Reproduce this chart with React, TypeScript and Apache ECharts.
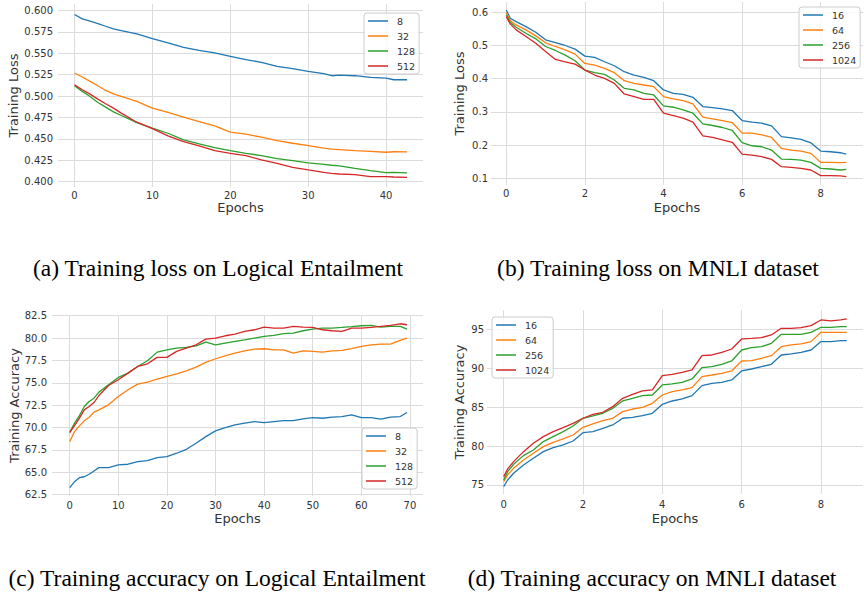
import React, { useEffect, useRef } from "react";
import * as echarts from "echarts";

// ---------- Panel (a): training loss on Logical Entailment ----------
const A_EPOCHS = [0, 1, 2, 3, 4, 5, 6, 8, 10, 12, 14, 16, 18, 20, 22, 24, 26, 28, 30, 32, 33, 34, 36, 38, 40, 41, 42.7];
const A_8 = [0.5953, 0.5902, 0.5875, 0.5848, 0.5816, 0.5785, 0.5766, 0.5727, 0.5672, 0.5621, 0.557, 0.5535, 0.5504, 0.5465, 0.5426, 0.5395, 0.5348, 0.532, 0.5289, 0.5262, 0.5238, 0.5246, 0.5238, 0.5219, 0.5211, 0.5191, 0.5191];
const A_32 = [0.527, 0.5223, 0.5172, 0.5121, 0.5066, 0.5027, 0.4996, 0.4938, 0.4859, 0.4809, 0.4754, 0.4703, 0.4652, 0.4578, 0.4555, 0.452, 0.448, 0.4449, 0.4422, 0.4391, 0.438, 0.4375, 0.4363, 0.4355, 0.4344, 0.435, 0.4348];
const A_128 = [0.5121, 0.5055, 0.4996, 0.4926, 0.4871, 0.4816, 0.4773, 0.4691, 0.4625, 0.4566, 0.4488, 0.4441, 0.4398, 0.4363, 0.4332, 0.4305, 0.427, 0.4246, 0.4219, 0.4203, 0.4192, 0.4184, 0.4156, 0.4129, 0.4105, 0.4108, 0.4102];
const A_512 = [0.5133, 0.5074, 0.5023, 0.4965, 0.491, 0.4859, 0.4801, 0.4695, 0.4621, 0.4535, 0.4469, 0.4418, 0.4363, 0.4332, 0.4305, 0.4254, 0.4215, 0.4168, 0.4137, 0.4109, 0.4098, 0.409, 0.4082, 0.4059, 0.4059, 0.4055, 0.4051];
const A_X_TICKS = [0, 10, 20, 30, 40];
const A_Y_TICKS = [0.4, 0.425, 0.45, 0.475, 0.5, 0.525, 0.55, 0.575, 0.6];

// ---------- Panel (b): training loss on MNLI ----------
const B_EPOCHS = [0, 0.1, 0.25, 0.5, 0.75, 1, 1.25, 1.5, 1.75, 2, 2.25, 2.5, 2.75, 3, 3.25, 3.5, 3.75, 4, 4.25, 4.5, 4.75, 5, 5.25, 5.5, 5.75, 6, 6.25, 6.5, 6.75, 7, 7.25, 7.5, 7.75, 8, 8.25, 8.5, 8.65];
const B_16 = [0.607, 0.582, 0.572, 0.557, 0.54, 0.517, 0.509, 0.5, 0.489, 0.468, 0.464, 0.451, 0.439, 0.421, 0.411, 0.404, 0.394, 0.366, 0.356, 0.353, 0.344, 0.316, 0.313, 0.309, 0.304, 0.274, 0.269, 0.266, 0.258, 0.2255, 0.222, 0.217, 0.207, 0.182, 0.18, 0.177, 0.173];
const B_64 = [0.599, 0.575, 0.562, 0.547, 0.529, 0.508, 0.497, 0.487, 0.474, 0.446, 0.441, 0.431, 0.418, 0.394, 0.386, 0.381, 0.376, 0.346, 0.339, 0.334, 0.324, 0.284, 0.279, 0.274, 0.268, 0.236, 0.236, 0.231, 0.223, 0.19, 0.185, 0.182, 0.175, 0.148, 0.148, 0.147, 0.148];
const B_256 = [0.592, 0.57, 0.555, 0.537, 0.52, 0.497, 0.485, 0.471, 0.454, 0.426, 0.418, 0.413, 0.396, 0.371, 0.366, 0.356, 0.351, 0.318, 0.314, 0.306, 0.296, 0.264, 0.259, 0.253, 0.244, 0.2075, 0.198, 0.195, 0.185, 0.158, 0.157, 0.155, 0.148, 0.13, 0.128, 0.125, 0.127];
const B_1024 = [0.587, 0.565, 0.547, 0.527, 0.507, 0.482, 0.458, 0.451, 0.444, 0.426, 0.411, 0.401, 0.386, 0.354, 0.346, 0.338, 0.338, 0.296, 0.289, 0.281, 0.269, 0.228, 0.2235, 0.2155, 0.2085, 0.173, 0.17, 0.165, 0.157, 0.135, 0.133, 0.13, 0.125, 0.108, 0.108, 0.107, 0.105];
const B_X_TICKS = [0, 2, 4, 6, 8];
const B_Y_TICKS = [0.1, 0.2, 0.3, 0.4, 0.5, 0.6];

// ---------- Panel (c): training accuracy on Logical Entailment ----------
const C_EPOCHS = [0, 1, 2, 3, 4, 5, 6, 8, 10, 12, 14, 16, 18, 20, 22, 24, 26, 28, 30, 32, 34, 36, 38, 40, 42, 44, 46, 48, 50, 52, 54, 56, 58, 60, 62, 64, 66, 68, 69.4];
const C_8 = [63.28, 63.95, 64.4, 64.5, 64.78, 65.15, 65.52, 65.52, 65.82, 65.9, 66.2, 66.3, 66.64, 66.75, 67.13, 67.57, 68.25, 68.99, 69.63, 70.0, 70.3, 70.49, 70.67, 70.56, 70.67, 70.78, 70.78, 70.97, 71.12, 71.04, 71.16, 71.23, 71.42, 71.12, 71.12, 70.93, 71.16, 71.23, 71.68];
const C_32 = [68.43, 69.55, 70.19, 70.75, 71.16, 71.72, 71.98, 72.54, 73.47, 74.22, 74.85, 75.07, 75.41, 75.71, 76.0, 76.34, 76.75, 77.28, 77.69, 78.02, 78.32, 78.58, 78.77, 78.81, 78.69, 78.69, 78.32, 78.58, 78.51, 78.43, 78.58, 78.62, 78.81, 79.07, 79.25, 79.33, 79.33, 79.74, 80.0];
const C_128 = [69.48, 70.49, 71.34, 72.35, 72.91, 73.28, 73.96, 74.78, 75.6, 76.08, 76.83, 77.46, 78.43, 78.69, 78.88, 78.96, 79.14, 79.55, 79.25, 79.44, 79.63, 79.81, 80.0, 80.19, 80.3, 80.49, 80.56, 80.82, 81.01, 81.12, 81.12, 81.19, 81.27, 81.38, 81.42, 81.23, 81.31, 81.31, 81.01];
const C_512 = [69.44, 70.22, 71.05, 71.98, 72.35, 72.8, 73.58, 74.7, 75.34, 76.08, 76.83, 77.13, 77.84, 77.84, 78.51, 78.88, 79.25, 79.89, 80.0, 80.26, 80.45, 80.75, 80.93, 81.23, 81.12, 81.12, 81.31, 81.23, 81.19, 80.93, 80.82, 80.75, 81.12, 81.12, 81.19, 81.31, 81.42, 81.6, 81.49];
const C_X_TICKS = [0, 10, 20, 30, 40, 50, 60, 70];
const C_Y_TICKS = [62.5, 65, 67.5, 70, 72.5, 75, 77.5, 80, 82.5];

// ---------- Panel (d): training accuracy on MNLI ----------
const D_EPOCHS = B_EPOCHS;
const D_16 = [74.79, 75.64, 76.5, 77.57, 78.43, 79.28, 79.8, 80.14, 80.65, 81.72, 81.85, 82.28, 82.71, 83.57, 83.69, 83.91, 84.21, 85.36, 85.79, 86.05, 86.48, 87.76, 88.06, 88.19, 88.49, 89.65, 89.9, 90.2, 90.5, 91.7, 91.83, 92.04, 92.34, 93.42, 93.42, 93.54, 93.54];
const D_64 = [75.43, 76.29, 77.14, 78.21, 79.07, 79.93, 80.48, 80.91, 81.42, 82.41, 82.84, 83.27, 83.57, 84.42, 84.76, 84.98, 85.49, 86.56, 86.99, 87.21, 87.51, 88.92, 89.13, 89.35, 89.65, 90.93, 90.97, 91.27, 91.62, 92.77, 92.99, 93.12, 93.42, 94.61, 94.61, 94.61, 94.61];
const D_256 = [75.64, 76.71, 77.66, 78.77, 79.5, 80.57, 81.21, 81.85, 82.58, 83.57, 83.87, 84.21, 84.85, 85.79, 86.13, 86.48, 86.56, 87.85, 87.98, 88.19, 88.62, 90.08, 90.2, 90.5, 90.93, 92.34, 92.64, 92.77, 93.2, 94.36, 94.36, 94.36, 94.61, 95.26, 95.26, 95.34, 95.34];
const D_1024 = [76.07, 77.06, 78.0, 79.28, 80.35, 81.21, 81.85, 82.37, 82.92, 83.57, 84.08, 84.34, 85.06, 86.13, 86.65, 87.08, 87.21, 89.05, 89.22, 89.48, 89.78, 91.62, 91.7, 92.04, 92.47, 93.76, 93.84, 93.93, 94.27, 95.13, 95.13, 95.21, 95.47, 96.2, 96.07, 96.2, 96.33];
const D_X_TICKS = [0, 2, 4, 6, 8];
const D_Y_TICKS = [75, 80, 85, 90, 95];

const NAMES_LE = ["8", "32", "128", "512"];
const NAMES_MNLI = ["16", "64", "256", "1024"];
const CAPTIONS = [
  "(a) Training loss on Logical Entailment",
  "(b) Training loss on MNLI dataset",
  "(c) Training accuracy on Logical Entailment",
  "(d) Training accuracy on MNLI dataset",
];

const COLORS = ["#1f77b4", "#ff7f0e", "#2ca02c", "#d62728"];
const FONT = "DejaVu Sans";
const TEXT = "#333333";
const GRIDC = "#dcdcdc";

const zip = (xs: number[], ys: number[]) => xs.map((x, i) => [x, ys[i]]);

export default function App() {
  const ref = useRef<HTMLDivElement>(null);
  useEffect(() => {
    if (!ref.current) return;
    const chart = echarts.init(ref.current, null, { renderer: "svg" });

    const panels = [
      { grid: { left: 58, top: 4, width: 365, height: 183 }, x: [-2.12, 44.74], y: [0.3938, 0.6076], xt: A_X_TICKS, yt: A_Y_TICKS, dec: 3, yName: "Training Loss", yGap: 35.5, xGap: 14, yMargin: 5, xMargin: 3, ep: A_EPOCHS, vals: [A_8, A_32, A_128, A_512], names: NAMES_LE, legend: { left: 364, top: 13 } },
      { grid: { left: 491, top: 2, width: 372, height: 183 }, x: [-0.389, 9.076], y: [0.0798, 0.631], xt: B_X_TICKS, yt: B_Y_TICKS, dec: 1, yName: "Training Loss", yGap: 25.5, xGap: 16, yMargin: 3, xMargin: 3, ep: B_EPOCHS, vals: [B_16, B_64, B_256, B_1024], names: NAMES_MNLI, legend: { left: 799, top: 7 } },
      { grid: { left: 52, top: 315, width: 371, height: 181 }, x: [-3.64, 72.68], y: [62.35, 82.58], xt: C_X_TICKS, yt: C_Y_TICKS, dec: 1, yName: "Training Accuracy", yGap: 29.5, xGap: 15.5, yMargin: 5, xMargin: 4, ep: C_EPOCHS, vals: [C_8, C_32, C_128, C_512], names: NAMES_LE, legend: { left: 362, top: 428 } },
      { grid: { left: 487, top: 310, width: 376, height: 184 }, x: [-0.42, 9.06], y: [73.84, 97.48], xt: D_X_TICKS, yt: D_Y_TICKS, dec: 0, yName: "Training Accuracy", yGap: 21, xGap: 17.5, yMargin: 3, xMargin: 5, ep: D_EPOCHS, vals: [D_16, D_64, D_256, D_1024], names: NAMES_MNLI, legend: { left: 492, top: 317 } },
    ];

    const grids: any[] = [];
    const xAxes: any[] = [];
    const yAxes: any[] = [];
    const series: any[] = [];
    const legends: any[] = [];

    panels.forEach((p, i) => {
      grids.push({ ...p.grid, containLabel: false });
      xAxes.push({
        type: "value",
        gridIndex: i,
        min: p.x[0],
        max: p.x[1],
        name: "Epochs",
        nameLocation: "middle",
        nameGap: p.xGap,
        nameTextStyle: { fontFamily: FONT, fontSize: 13, color: TEXT },
        axisLine: { show: false },
        axisTick: { show: false, customValues: p.xt },
        axisLabel: { customValues: p.xt, fontFamily: FONT, fontSize: 10, color: TEXT, margin: p.xMargin, formatter: (v: number) => String(v) },
        splitLine: { show: true, lineStyle: { color: GRIDC, width: 1 } },
      });
      yAxes.push({
        type: "value",
        gridIndex: i,
        min: p.y[0],
        max: p.y[1],
        name: p.yName,
        nameLocation: "middle",
        nameGap: p.yGap,
        nameTextStyle: { fontFamily: FONT, fontSize: 13, color: TEXT },
        axisLine: { show: false },
        axisTick: { show: false, customValues: p.yt },
        axisLabel: { customValues: p.yt, fontFamily: FONT, fontSize: 10, color: TEXT, margin: p.yMargin, formatter: (v: number) => v.toFixed(p.dec) },
        splitLine: { show: true, lineStyle: { color: GRIDC, width: 1 } },
      });
      p.vals.forEach((v, k) => {
        series.push({
          type: "line",
          name: p.names[k],
          xAxisIndex: i,
          yAxisIndex: i,
          data: zip(p.ep, v),
          symbol: "none",
          showSymbol: false,
          color: COLORS[k],
          lineStyle: { color: COLORS[k], width: 1.3 },
          z: 2 + k,
        });
      });
      legends.push({
        show: true,
        orient: "vertical",
        left: p.legend.left,
        top: p.legend.top,
        data: p.names,
        icon: "path://M0,0H20V1.5H0Z",
        itemWidth: 20,
        itemHeight: 10,
        itemGap: 1,
        padding: [1, 4, 1, 4],
        backgroundColor: "rgba(255,255,255,0.85)",
        borderColor: "#cccccc",
        borderWidth: 1,
        borderRadius: 3,
        selectedMode: false,
        textStyle: { fontFamily: FONT, fontSize: 9.5, color: TEXT, lineHeight: 14, padding: [0, 0, 0, 4] },
      });
    });

    const captionPos = [
      [218, 268],
      [658, 268],
      [217, 578],
      [652, 578],
    ];
    const graphic = CAPTIONS.map((t, i) => ({
      type: "text",
      x: captionPos[i][0],
      y: captionPos[i][1],
      style: {
        text: t,
        fontFamily: "Liberation Serif",
        fontSize: 23.5,
        fill: "#000",
        textAlign: "center",
        textVerticalAlign: "middle",
      },
    }));

    chart.setOption({
      animation: false,
      backgroundColor: "#ffffff",
      grid: grids,
      xAxis: xAxes,
      yAxis: yAxes,
      series,
      legend: legends,
      graphic,
    });
    return () => chart.dispose();
  }, []);
  return <div ref={ref} style={{ position: "absolute", left: 0, top: 0, width: 864, height: 595 }} />;
}
